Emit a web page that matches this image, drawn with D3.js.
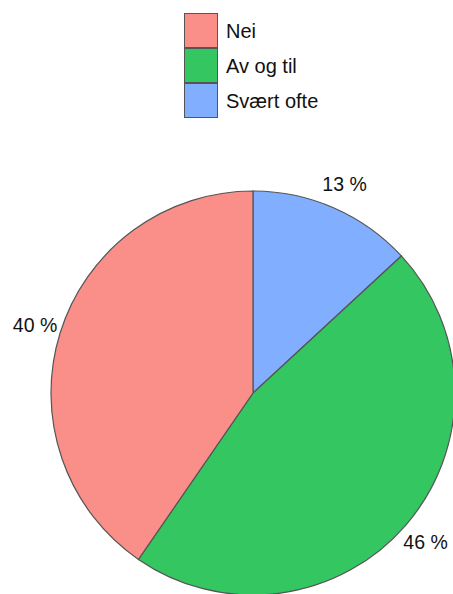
<!DOCTYPE html>
<html>
<head>
<meta charset="utf-8">
<script src="https://cdn.jsdelivr.net/npm/d3@7"></script>
<style>
  html, body { margin: 0; padding: 0; background: #fff; }
  svg { display: block; font-family: "Liberation Sans", Arial, Helvetica, sans-serif; }
</style>
</head>
<body>
<svg id="chart" width="453" height="594"></svg>
<script>
// Answers and their shares (percent)
const categories = ["Nei", "Av og til", "Svært ofte"];
const values = [40, 46, 13];
const colors = ["#F98F88", "#33C661", "#81AEFF"];

const svg = d3.select("#chart");
const cx = 253, cy = 393, radius = 202;

// Legend
const legend = svg.append("g").attr("transform", "translate(184,13)");
const rowH = 35;
categories.forEach((c, i) => {
  const row = legend.append("g").attr("transform", `translate(0,${i * rowH})`);
  row.append("rect")
    .attr("x", 0.5).attr("y", 0.5)
    .attr("width", 33).attr("height", rowH - 1)
    .attr("fill", colors[i])
    .attr("stroke", "#555").attr("stroke-width", 1);
  row.append("text")
    .attr("x", 42).attr("y", rowH / 2 + 0.5)
    .attr("dy", "0.35em")
    .attr("font-size", 20)
    .attr("fill", "#111")
    .text(c);
});

// Pie: drawn clockwise from 12 o'clock starting with the last category
const data = categories.map((c, i) => ({ cat: c, value: values[i], color: colors[i] })).reverse();
const pie = d3.pie().sort(null).value(d => d.value);
const arcs = pie(data);
const arc = d3.arc().innerRadius(0).outerRadius(radius);
const labelArc = d3.arc().innerRadius(radius * 1.13).outerRadius(radius * 1.13);

const g = svg.append("g").attr("transform", `translate(${cx},${cy})`);
g.selectAll("path.slice")
  .data(arcs)
  .enter().append("path")
  .attr("class", "slice")
  .attr("d", arc)
  .attr("fill", d => d.data.color)
  .attr("stroke", "#555")
  .attr("stroke-width", 1.2);

g.selectAll("text.lbl")
  .data(arcs)
  .enter().append("text")
  .attr("class", "lbl")
  .attr("transform", d => `translate(${labelArc.centroid(d)})`)
  .attr("text-anchor", "middle")
  .attr("dy", "0.35em")
  .attr("font-size", 19.5)
  .attr("fill", "#111")
  .text(d => d.data.value + " %");
</script>
</body>
</html>
